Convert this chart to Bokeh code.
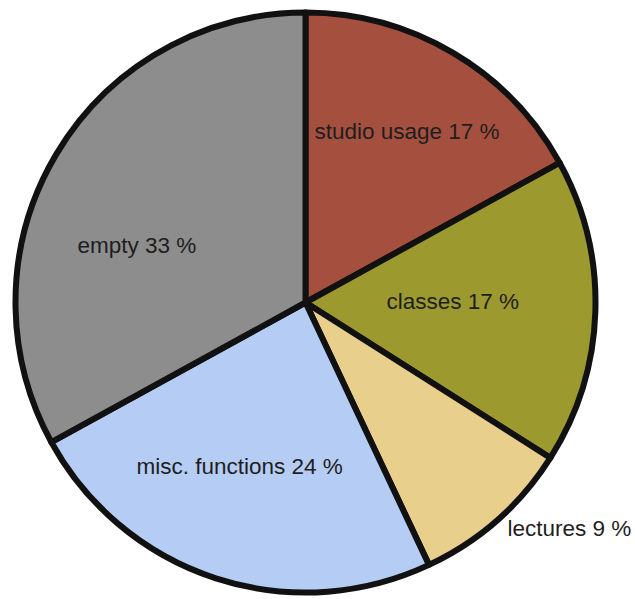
import numpy as np
from bokeh.plotting import figure
from bokeh.models import ColumnDataSource, Range1d
from bokeh.core.properties import value
from bokeh.embed import file_html
from bokeh.resources import INLINE

# Share of studio time by use, in percent (clockwise from 12 o'clock)
categories = ["studio usage", "classes", "lectures", "misc. functions", "empty"]
shares = [17, 17, 9, 24, 33]
colors = ["#a5503f", "#9c9a2f", "#e9cf8c", "#b5cdf4", "#8d8d8d"]

W, H = 635, 599
cx, cy, r = 305, H - 302, 290

frac = np.array(shares, dtype=float) / sum(shares)
ends = np.cumsum(frac) * 2 * np.pi
starts = ends - frac * 2 * np.pi
start_angle = np.pi / 2 - starts
end_angle = np.pi / 2 - ends

src = ColumnDataSource(dict(start=start_angle, end=end_angle, color=colors))

p = figure(width=W, height=H, output_backend="svg", toolbar_location=None,
           x_range=Range1d(0, W), y_range=Range1d(0, H), min_border=0)
p.axis.visible = False
p.grid.visible = False
p.outline_line_color = None
p.background_fill_color = "white"
p.border_fill_color = "white"

p.wedge(x=cx, y=cy, radius=r, start_angle="start", end_angle="end",
        direction="clock", fill_color="color", line_color="#111111",
        line_width=6, line_join="round", source=src)

# Label anchors (left edge, vertical middle) in page pixels
label_x = [314, 386, 507, 136, 77]
label_y = [131, 301, 528, 466, 245]
labels = [f"{c} {s} %" for c, s in zip(categories, shares)]

p.text(x=label_x, y=[H - y for y in label_y], text=labels,
       text_font=value("Liberation Sans"), text_font_size="22.5px",
       text_color="#1e1e1e", text_align="left", text_baseline="middle")

open("out.html", "w").write(file_html(p, INLINE))
